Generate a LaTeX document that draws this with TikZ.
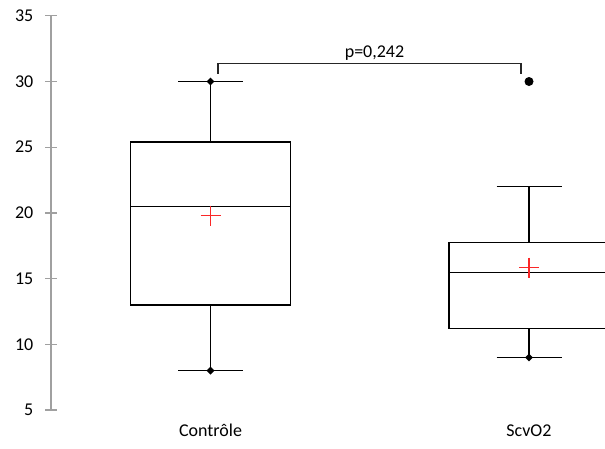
\documentclass[tikz,border=0pt]{standalone}
\usepackage{fontspec}
\setmainfont{Carlito}
\usetikzlibrary{shapes}
\definecolor{AxisGray}{RGB}{160,160,160}
\definecolor{MeanRed}{RGB}{250,40,40}

\begin{document}
\begin{tikzpicture}[x=1pt, y=-1pt, font=\fontsize{18}{21}\selectfont,
  declare function={yv(\v)=410-(\v-5)*13.14;}, % value -> y (65.7 px for 5 units)
  boxline/.style={line width=1.5pt, black},
  marker/.style={diamond, fill=black, inner sep=0pt, minimum size=8pt},
  meanline/.style={MeanRed, line width=1.2pt}]
\pgfmathsetmacro{\xa}{51} % x of the value axis
\pgfmathsetmacro{\xc}{210.5} % x centre Controle
\pgfmathsetmacro{\xs}{529} % x centre ScvO2
\pgfmathsetmacro{\hw}{80} % half width of a box
\pgfmathsetmacro{\cw}{32.5} % half width of a whisker cap
\pgfmathsetmacro{\mw}{10} % half size of the mean cross

\useasboundingbox (0,0) rectangle (605,448);
\clip (0,0) rectangle (605,448); % ScvO2 box runs past the right edge

\draw[AxisGray, line width=1.2pt] (\xa, {yv(5)}) -- (\xa, {yv(35)}); % value axis
\foreach \v in {5,10,...,35}
{
 \draw[AxisGray, line width=1.2pt] (\xa-6, {yv(\v)}) -- (\xa+6, {yv(\v)});
 \node[anchor=east, inner sep=0pt] (tick\v) at (33.5, {yv(\v)}) {\v};
}

% Controle
\draw[boxline] (\xc-\hw, {yv(25.4)}) rectangle (\xc+\hw, {yv(13)}); % box
\draw[boxline] (\xc-\hw, {yv(20.5)}) -- (\xc+\hw, {yv(20.5)}); % median
\draw[boxline] (\xc, {yv(30)}) -- (\xc, {yv(25.4)}); % upper whisker
\draw[boxline] (\xc, {yv(13)}) -- (\xc, {yv(8)}); % lower whisker
\draw[boxline] (\xc-\cw, {yv(30)}) -- (\xc+\cw, {yv(30)});
\draw[boxline] (\xc-\cw, {yv(8)}) -- (\xc+\cw, {yv(8)});
\node[marker] (cmax) at (\xc, {yv(30)}) {};
\node[marker] (cmin) at (\xc, {yv(8)}) {};
\draw[meanline] (\xc-\mw, {yv(19.8)}) -- (\xc+\mw, {yv(19.8)}); % mean
\draw[meanline] (\xc, {yv(19.8)-\mw}) -- (\xc, {yv(19.8)+\mw});

% ScvO2
\draw[boxline] (\xs-\hw, {yv(17.73)}) rectangle (\xs+\hw, {yv(11.2)}); % box
\draw[boxline] (\xs-\hw, {yv(15.45)}) -- (\xs+\hw, {yv(15.45)}); % median
\draw[boxline] (\xs, {yv(22)}) -- (\xs, {yv(17.73)}); % upper whisker
\draw[boxline] (\xs, {yv(11.2)}) -- (\xs, {yv(9)}); % lower whisker
\draw[boxline] (\xs-\cw, {yv(22)}) -- (\xs+\cw, {yv(22)});
\draw[boxline] (\xs-\cw, {yv(9)}) -- (\xs+\cw, {yv(9)});
\node[marker] (smin) at (\xs, {yv(9)}) {};
\node[circle, fill=black, inner sep=0pt, minimum size=9pt] (sout) at (\xs, {yv(30)}) {}; % outlier
\draw[meanline] (\xs-\mw, {yv(15.83)}) -- (\xs+\mw, {yv(15.83)}); % mean
\draw[meanline] (\xs, {yv(15.83)-\mw}) -- (\xs, {yv(15.83)+\mw});

% p-value bracket
\draw[line width=1.3pt, black!85] (218, 73.5) -- (218, 63.5) -- (521, 63.5) -- (521, 73.5);
\node[anchor=base] (pval) at (374.5, 57.3) {p=0,242};

% group labels
\node[anchor=base] (lctrl) at (\xc, 436.5) {Contrôle};
\node[anchor=base] (lscv) at (\xs, 436.5) {ScvO2};

\end{tikzpicture}
\end{document}
